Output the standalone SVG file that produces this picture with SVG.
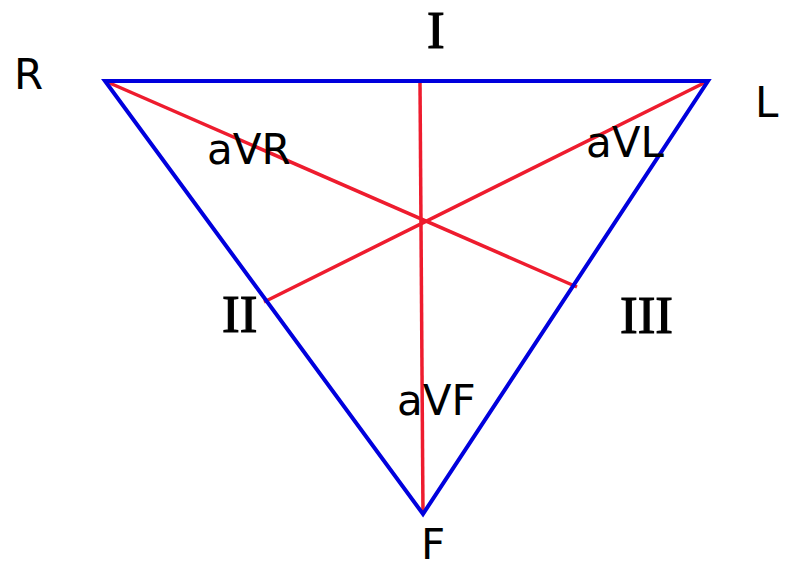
<svg xmlns="http://www.w3.org/2000/svg" width="785" height="568" viewBox="0 0 785 568">
<style>
.blue{stroke:#0000dd;stroke-width:4;fill:none;stroke-linejoin:miter}
.red{stroke:#ee1c2e;stroke-width:3.5;fill:none}
text{font-family:"DejaVu Sans",Verdana,sans-serif;font-size:42px;fill:#000}
text.roman{font-family:"Liberation Serif","Times New Roman",serif;font-size:53px;stroke:#000;stroke-width:1.2}
</style>
<rect width="785" height="568" fill="#fff"/>
<g id="connectors">
<line class="red" x1="105" y1="81" x2="577" y2="287"/>
<line class="red" x1="708" y1="81" x2="264" y2="302"/>
<line class="red" x1="420" y1="82" x2="423" y2="514"/>
<polygon class="blue" points="105,81 708,81 423,514"/>
</g>
<g id="R"><text x="14" y="89">R</text></g>
<g id="I"><text class="roman" x="427" y="48">I</text></g>
<g id="L"><text x="755" y="117">L</text></g>
<g id="aVR"><text x="207" y="164">aVR</text></g>
<g id="aVL"><text x="586" y="157">aVL</text></g>
<g id="II"><text class="roman" x="222" y="332">II</text></g>
<g id="III"><text class="roman" x="620" y="333">III</text></g>
<g id="aVF"><text x="397" y="415">aVF</text></g>
<g id="F"><text x="421" y="559">F</text></g>
</svg>
